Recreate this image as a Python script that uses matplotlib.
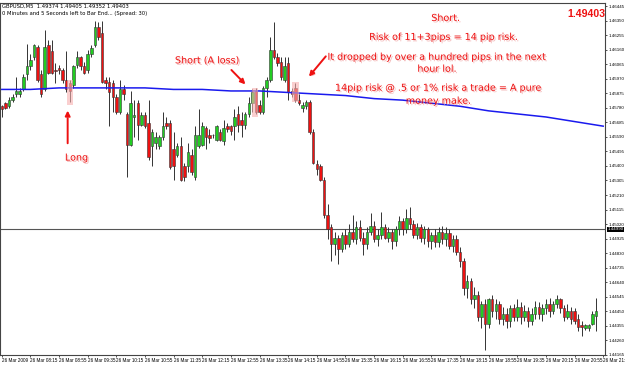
import matplotlib
matplotlib.use("Agg")
import matplotlib.pyplot as plt
import matplotlib.patheffects as pe
from matplotlib.patches import Rectangle

# GBPUSD M5 candles, 26 Mar 2009 from 07:35
opens = [
    1.4579, 1.4581, 1.4579, 1.4583, 1.4587, 1.4587, 1.4590, 1.4600, 1.4605, 1.4611,
    1.4618, 1.4600, 1.4590, 1.4619, 1.4615, 1.4603, 1.4604, 1.4603, 1.4596, 1.4594,
    1.4593, 1.4606, 1.4611, 1.4605, 1.4603, 1.4613, 1.4619, 1.4631, 1.4627, 1.4596,
    1.4595, 1.4594, 1.4585, 1.4575, 1.4590, 1.4574, 1.4554, 1.4572, 1.4581, 1.4567,
    1.4573, 1.4568, 1.4553, 1.4555, 1.4553, 1.4559, 1.4568, 1.4568, 1.4551, 1.4547,
    1.4553, 1.4540, 1.4540, 1.4547, 1.4533, 1.4553, 1.4554, 1.4565, 1.4560, 1.4560,
    1.4557, 1.4562, 1.4556, 1.4566, 1.4566, 1.4566, 1.4574, 1.4570, 1.4567, 1.4574,
    1.4581, 1.4589, 1.4580, 1.4575, 1.4591, 1.4596, 1.4616, 1.4611, 1.4608, 1.4596,
    1.4607, 1.4589, 1.4591, 1.4583, 1.4578, 1.4579, 1.4582, 1.4562, 1.4541, 1.4540,
    1.4531, 1.4508, 1.4500, 1.4489, 1.4493, 1.4486, 1.4495, 1.4489, 1.4497, 1.4492,
    1.4500, 1.4493, 1.4489, 1.4497, 1.4501, 1.4492, 1.4495, 1.4500, 1.4493, 1.4497,
    1.4491, 1.4499, 1.4504, 1.4499, 1.4506, 1.4502, 1.4495, 1.4500, 1.4493, 1.4499,
    1.4491, 1.4495, 1.4490, 1.4497, 1.4492, 1.4496, 1.4488, 1.4492, 1.4484, 1.4478,
    1.4460, 1.4465, 1.4453, 1.4456, 1.4441, 1.4450, 1.4437, 1.4453, 1.4445, 1.4450,
    1.4440, 1.4443, 1.4439, 1.4447, 1.4441, 1.4448, 1.4441, 1.4445, 1.4439, 1.4443,
    1.4448, 1.4443, 1.4447, 1.4450, 1.4445, 1.4450, 1.4453, 1.4447, 1.4441, 1.4445,
    1.4445, 1.4440, 1.4436, 1.4434, 1.4434, 1.4437, 1.4442,
]
highs = [
    1.4580, 1.4582, 1.4585, 1.4587, 1.4598, 1.4591, 1.4600, 1.4620, 1.4613, 1.4620,
    1.4619, 1.4603, 1.4629, 1.4622, 1.4622, 1.4607, 1.4606, 1.4604, 1.4615, 1.4596,
    1.4606, 1.4615, 1.4612, 1.4608, 1.4616, 1.4619, 1.4635, 1.4634, 1.4635, 1.4598,
    1.4598, 1.4596, 1.4587, 1.4596, 1.4593, 1.4575, 1.4589, 1.4583, 1.4583, 1.4575,
    1.4575, 1.4583, 1.4564, 1.4562, 1.4560, 1.4575, 1.4572, 1.4570, 1.4562, 1.4555,
    1.4559, 1.4542, 1.4555, 1.4551, 1.4566, 1.4577, 1.4569, 1.4566, 1.4564, 1.4561,
    1.4567, 1.4564, 1.4570, 1.4568, 1.4567, 1.4577, 1.4579, 1.4575, 1.4575, 1.4585,
    1.4590, 1.4591, 1.4583, 1.4592, 1.4598, 1.4624, 1.4634, 1.4614, 1.4611, 1.4611,
    1.4611, 1.4591, 1.4594, 1.4587, 1.4582, 1.4583, 1.4583, 1.4564, 1.4544, 1.4541,
    1.4533, 1.4515, 1.4502, 1.4497, 1.4495, 1.4497, 1.4499, 1.4502, 1.4508, 1.4504,
    1.4505, 1.4497, 1.4500, 1.4509, 1.4504, 1.4499, 1.4510, 1.4502, 1.4500, 1.4499,
    1.4501, 1.4507, 1.4506, 1.4512, 1.4513, 1.4505, 1.4503, 1.4502, 1.4501, 1.4500,
    1.4497, 1.4499, 1.4500, 1.4501, 1.4500, 1.4499, 1.4495, 1.4495, 1.4487, 1.4480,
    1.4469, 1.4467, 1.4461, 1.4458, 1.4452, 1.4453, 1.4454, 1.4456, 1.4453, 1.4452,
    1.4448, 1.4447, 1.4449, 1.4450, 1.4453, 1.4451, 1.4449, 1.4448, 1.4447, 1.4452,
    1.4451, 1.4450, 1.4453, 1.4454, 1.4452, 1.4456, 1.4454, 1.4449, 1.4450, 1.4448,
    1.4447, 1.4443, 1.4439, 1.4437, 1.4437, 1.4445, 1.4454,
]
lows = [
    1.4572, 1.4577, 1.4578, 1.4582, 1.4585, 1.4585, 1.4589, 1.4596, 1.4603, 1.4609,
    1.4595, 1.4585, 1.4589, 1.4600, 1.4600, 1.4594, 1.4600, 1.4594, 1.4588, 1.4582,
    1.4591, 1.4604, 1.4603, 1.4600, 1.4601, 1.4611, 1.4618, 1.4622, 1.4594, 1.4590,
    1.4566, 1.4575, 1.4574, 1.4574, 1.4583, 1.4533, 1.4553, 1.4559, 1.4557, 1.4566,
    1.4565, 1.4544, 1.4540, 1.4551, 1.4551, 1.4557, 1.4564, 1.4538, 1.4531, 1.4546,
    1.4530, 1.4530, 1.4536, 1.4534, 1.4531, 1.4552, 1.4553, 1.4551, 1.4555, 1.4558,
    1.4556, 1.4556, 1.4554, 1.4562, 1.4560, 1.4557, 1.4562, 1.4559, 1.4564, 1.4572,
    1.4575, 1.4574, 1.4574, 1.4574, 1.4585, 1.4595, 1.4610, 1.4605, 1.4596, 1.4595,
    1.4583, 1.4585, 1.4582, 1.4580, 1.4575, 1.4577, 1.4561, 1.4541, 1.4534, 1.4530,
    1.4506, 1.4492, 1.4478, 1.4482, 1.4476, 1.4484, 1.4486, 1.4487, 1.4490, 1.4489,
    1.4491, 1.4482, 1.4486, 1.4495, 1.4490, 1.4488, 1.4492, 1.4492, 1.4490, 1.4486,
    1.4488, 1.4495, 1.4495, 1.4496, 1.4499, 1.4493, 1.4492, 1.4490, 1.4489, 1.4487,
    1.4486, 1.4487, 1.4487, 1.4489, 1.4488, 1.4486, 1.4484, 1.4482, 1.4474, 1.4456,
    1.4454, 1.4450, 1.4447, 1.4439, 1.4434, 1.4420, 1.4434, 1.4441, 1.4440, 1.4437,
    1.4436, 1.4434, 1.4435, 1.4439, 1.4439, 1.4437, 1.4439, 1.4435, 1.4436, 1.4440,
    1.4440, 1.4439, 1.4443, 1.4441, 1.4443, 1.4447, 1.4444, 1.4439, 1.4440, 1.4437,
    1.4437, 1.4432, 1.4429, 1.4433, 1.4432, 1.4436, 1.4432,
]
closes = [
    1.4577, 1.4578, 1.4583, 1.4585, 1.4589, 1.4589, 1.4598, 1.4605, 1.4609, 1.4619,
    1.4596, 1.4587, 1.4618, 1.4601, 1.4601, 1.4602, 1.4603, 1.4596, 1.4590, 1.4589,
    1.4605, 1.4611, 1.4605, 1.4601, 1.4613, 1.4617, 1.4631, 1.4624, 1.4595, 1.4594,
    1.4588, 1.4585, 1.4575, 1.4590, 1.4587, 1.4554, 1.4581, 1.4573, 1.4567, 1.4573,
    1.4566, 1.4546, 1.4562, 1.4559, 1.4559, 1.4566, 1.4566, 1.4539, 1.4540, 1.4553,
    1.4531, 1.4533, 1.4549, 1.4536, 1.4560, 1.4560, 1.4566, 1.4559, 1.4558, 1.4560,
    1.4566, 1.4557, 1.4565, 1.4564, 1.4563, 1.4572, 1.4567, 1.4567, 1.4574, 1.4581,
    1.4588, 1.4575, 1.4575, 1.4591, 1.4596, 1.4616, 1.4611, 1.4607, 1.4598, 1.4605,
    1.4588, 1.4587, 1.4583, 1.4581, 1.4580, 1.4582, 1.4562, 1.4542, 1.4538, 1.4531,
    1.4508, 1.4499, 1.4489, 1.4493, 1.4486, 1.4495, 1.4489, 1.4497, 1.4492, 1.4500,
    1.4493, 1.4489, 1.4497, 1.4501, 1.4492, 1.4495, 1.4500, 1.4493, 1.4497, 1.4491,
    1.4499, 1.4504, 1.4499, 1.4506, 1.4502, 1.4495, 1.4500, 1.4493, 1.4499, 1.4491,
    1.4495, 1.4490, 1.4497, 1.4492, 1.4496, 1.4488, 1.4492, 1.4484, 1.4478, 1.4460,
    1.4465, 1.4453, 1.4456, 1.4441, 1.4450, 1.4437, 1.4453, 1.4445, 1.4450, 1.4440,
    1.4443, 1.4439, 1.4447, 1.4441, 1.4448, 1.4441, 1.4445, 1.4439, 1.4443, 1.4448,
    1.4443, 1.4447, 1.4450, 1.4445, 1.4450, 1.4453, 1.4447, 1.4441, 1.4445, 1.4440,
    1.4439, 1.4435, 1.4435, 1.4436, 1.4436, 1.4443, 1.4445,
]

# slow moving average, read every 8 bars
ma_bars = [0, 8, 16, 24, 32, 40, 48, 56, 64, 72, 80, 88, 96, 104, 112, 120, 128, 136, 144, 152, 160, 168]
ma_values = [
    1.4590, 1.4590, 1.4591, 1.4591, 1.4591, 1.4591, 1.4590, 1.4590, 1.4589, 1.4589, 1.4588,
    1.4587, 1.4586, 1.4584, 1.4583, 1.4581, 1.4579, 1.4576, 1.4574, 1.4572, 1.4569, 1.4566,
]

hline_price = 1.4499
hline_label = "1.44990"

x_ticks = [0, 8, 16, 24, 32, 40, 48, 56, 64, 72, 80, 88, 96, 104, 112, 120, 128, 136, 144, 152, 160, 168]
x_labels = [
    "26 Mar 2009", "26 Mar 08:15", "26 Mar 08:55", "26 Mar 09:35", "26 Mar 10:15", "26 Mar 10:55",
    "26 Mar 11:35", "26 Mar 12:15", "26 Mar 12:55", "26 Mar 13:35", "26 Mar 14:15", "26 Mar 14:55",
    "26 Mar 15:35", "26 Mar 16:15", "26 Mar 16:55", "26 Mar 17:35", "26 Mar 18:15", "26 Mar 18:55",
    "26 Mar 19:35", "26 Mar 20:15", "26 Mar 20:55", "26 Mar 21:35",
]
y_labels = [
    "1.46445", "1.46350", "1.46255", "1.46160", "1.46065", "1.45970", "1.45875", "1.45780",
    "1.45685", "1.45590", "1.45495", "1.45400", "1.45305", "1.45210", "1.45115", "1.45020",
    "1.44925", "1.44830", "1.44735", "1.44640", "1.44545", "1.44450", "1.44355", "1.44260", "1.44165",
]

# trade markers: (first bar, last bar, low, high)
highlights = [(18.1, 19.9, 1.4580, 1.4596), (70.0, 71.5, 1.4572, 1.4591), (81.1, 83.1, 1.4582, 1.4595)]
arrows = [((18.4, 1.4553), (18.4, 1.4578)), ((63.6, 1.4604), (68.6, 1.4592)), ((91.0, 1.4613), (85.3, 1.4597))]

RED = "#ee1111"
GREEN = "#22cc22"
shadow = [pe.SimplePatchShadow(offset=(1, -1), shadow_rgbFace="#f0a0a0", alpha=0.7), pe.Normal()]

fig = plt.figure(figsize=(6.25, 3.69), dpi=100)
ax = fig.add_axes([0.0, 0.038, 0.968, 0.954])

for i, (o, h, l, c) in enumerate(zip(opens, highs, lows, closes)):
    ax.vlines(i, l, h, color="#333333", linewidth=0.7, zorder=2)
    color = GREEN if c >= o else RED
    ax.add_patch(Rectangle((i - 0.35, min(o, c)), 0.7, max(abs(c - o), 0.00003),
                           facecolor=color, edgecolor="#333333", linewidth=0.4, zorder=3))

ax.plot(ma_bars, ma_values, color="#1a1aee", linewidth=1.1, zorder=4)
ax.axhline(hline_price, color="#555555", linewidth=0.8, zorder=1)

for x0, x1, y0, y1 in highlights:
    ax.add_patch(Rectangle((x0, y0), x1 - x0, y1 - y0, facecolor="#f7b0b0", alpha=0.6,
                           edgecolor="none", zorder=5))

for start, end in arrows:
    ax.annotate("", xy=end, xytext=start,
                arrowprops=dict(arrowstyle="-|>", color=RED, linewidth=1.4, mutation_scale=7,
                                path_effects=shadow), zorder=6)

text_style = dict(color=RED, fontsize=6.9, ha="center", va="center", family="DejaVu Sans",
                  path_effects=shadow, zorder=7)
ax.text(20.9, 1.45455, "Long", **text_style)
ax.text(57.4, 1.4609, "Short (A loss)", **text_style)
ax.text(124.0, 1.46367, "Short.", **text_style)
ax.text(123.5, 1.46243, "Risk of 11+3pips = 14 pip risk.", **text_style)
ax.text(121.6, 1.46113, "It dropped by over a hundred pips in the next", **text_style)
ax.text(121.6, 1.46035, "hour lol.", **text_style)
ax.text(122.0, 1.45911, "14pip risk @ .5 or 1% risk a trade = A pure", **text_style)
ax.text(122.0, 1.45826, "money make.", **text_style)
ax.text(163.4, 1.46393, "1.49403", color=RED, fontsize=7.6, fontweight="bold", family="Liberation Sans",
        ha="center", va="center")

ax.text(0.004, 0.997, "GBPUSD,M5  1.49374 1.49405 1.49352 1.49403", transform=ax.transAxes,
        fontsize=3.8, va="top", ha="left")
ax.text(0.004, 0.978, "0 Minutes and 5 Seconds left to Bar End... (Spread: 30)", transform=ax.transAxes,
        fontsize=3.8, va="top", ha="left")

ax.set_xlim(-0.5, 168.5)
ax.set_ylim(1.44170, 1.46465)
ax.set_xticks(x_ticks)
ax.set_xticklabels(x_labels, ha="left", fontsize=3.3, family="Liberation Sans")
ax.set_yticks([float(v) for v in y_labels])
ax.set_yticklabels(y_labels, fontsize=3.2, family="Liberation Sans")
ax.yaxis.tick_right()
ax.tick_params(axis="both", length=1.5, width=0.6, pad=0.8, color="#333333")
ax.text(1.004, (hline_price - 1.44170) / (1.46465 - 1.44170), hline_label, transform=ax.transAxes,
        fontsize=3.2, family="Liberation Sans", color="white", va="center", ha="left",
        bbox=dict(facecolor="black", edgecolor="none", pad=0.4))
for spine in ax.spines.values():
    spine.set_color("#444444")
    spine.set_linewidth(0.8)

fig.savefig("out.png", dpi=100)
